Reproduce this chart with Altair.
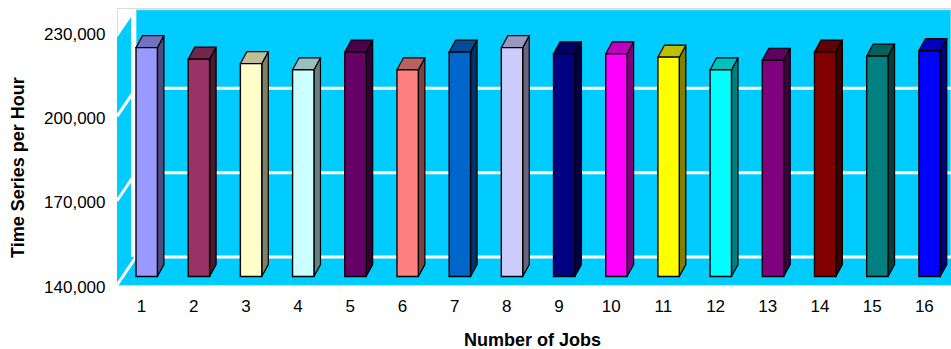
import altair as alt
import pandas as pd

# ---------------- data ----------------
jobs = list(range(1, 17))
throughput = [221500, 217400, 215800, 213600, 219900, 213600, 219900, 221500,
              219300, 219300, 218100, 213600, 217000, 219900, 218500, 220400]
bar_colors = ["#9999FF", "#993366", "#FFFFCC", "#CCFFFF", "#660066", "#FF8080",
              "#0066CC", "#CCCCFF", "#000080", "#FF00FF", "#FFFF00", "#00FFFF",
              "#800080", "#800000", "#008080", "#0000FF"]
y_ticks = [140000, 170000, 200000, 230000]
grid_values = [140000, 170000, 200000]

# ---------------- layout (data units of the two scales) ----------------
X_MIN, X_MAX = 0.54, 16.52
Y_MIN, Y_MAX = 140000, 238600
WALL_TOP = 228000
DX, DY = 0.364, 10000      # depth of the 3-D box
BX, BY = 0.109, 3000       # position of bar front face inside the box
HW = 0.205                 # half width of a bar
TDX, TDY = 0.125, 4270     # depth of a bar
WALL = "#00CCFF"
FONT = "Liberation Sans"


def shade(hex_color, f):
    r, g, b = (int(hex_color[i:i + 2], 16) for i in (1, 3, 5))
    return "#{:02X}{:02X}{:02X}".format(int(r * f), int(g * f), int(b * f))


xs = alt.Scale(domain=[X_MIN, X_MAX], nice=False, zero=False)
ys = alt.Scale(domain=[Y_MIN, Y_MAX], nice=False, zero=False)

X_AXIS = alt.Axis(values=jobs, format="d", title="Number of Jobs", grid=False,
                  domain=False, ticks=False, tickSize=0, labelFontSize=17,
                  labelColor="black", labelPadding=21, labelBaseline="middle",
                  titleFontSize=18, titleFontWeight="bold", titleColor="black",
                  titleX=415, titleY=55, titleBaseline="middle", titleAlign="center")
Y_AXIS = alt.Axis(values=y_ticks, format=",d", title="Time Series per Hour", grid=False,
                  domain=False, ticks=False, tickSize=0, labelFontSize=17,
                  labelColor="black", labelPadding=12, labelOffset=2,
                  titleFontSize=18, titleFontWeight="bold", titleColor="black",
                  titleX=-99, titleY=159, titleAngle=270, titleBaseline="middle",
                  titleAlign="center")


def X(f):
    return alt.X(f, type="quantitative", scale=xs, axis=X_AXIS, stack=None)


def Y(f):
    return alt.Y(f, type="quantitative", scale=ys, axis=Y_AXIS, stack=None)


# ---------------- walls ----------------
back_df = pd.DataFrame({"xa": [X_MIN + DX], "xb": [X_MAX],
                        "ya": [Y_MIN + DY], "yb": [WALL_TOP + DY]})
back = alt.Chart(back_df).mark_rect(color=WALL, stroke="#B0ECFF", strokeWidth=1).encode(
    x=X("xa"), x2="xb", y=Y("ya"), y2="yb")

floor_df = pd.DataFrame({"y": [Y_MIN, Y_MIN + DY], "xa": [X_MIN, X_MIN + DX],
                         "xb": [X_MAX, X_MAX]})
floor = alt.Chart(floor_df).mark_area(color=WALL, orient="horizontal").encode(
    y=Y("y"), x=X("xa"), x2="xb")

side_df = pd.DataFrame({"x": [X_MIN, X_MIN + DX], "ya": [Y_MIN, Y_MIN + DY],
                        "yb": [WALL_TOP, WALL_TOP + DY]})
side = alt.Chart(side_df).mark_area(color=WALL, orient="vertical").encode(
    x=X("x"), y=Y("ya"), y2="yb")

edge_df = pd.DataFrame({"x": [X_MIN + DX], "ya": [Y_MIN + DY], "yb": [WALL_TOP + DY]})
edge = alt.Chart(edge_df).mark_rule(color="white", strokeWidth=5, xOffset=-2.5).encode(
    x=X("x"), y=Y("ya"), y2="yb")

grid_back_df = pd.DataFrame({"y": [v + DY for v in grid_values],
                             "xa": [X_MIN + DX] * len(grid_values),
                             "xb": [X_MAX] * len(grid_values)})
grid_back = alt.Chart(grid_back_df).mark_rule(color="white", strokeWidth=3).encode(
    y=Y("y"), x=X("xa"), x2="xb")

grid_side_df = pd.DataFrame({"xa": [X_MIN] * len(grid_values),
                             "xb": [X_MIN + DX] * len(grid_values),
                             "ya": grid_values,
                             "yb": [v + DY for v in grid_values]})
grid_side = alt.Chart(grid_side_df).mark_rule(color="white", strokeWidth=3).encode(
    x=X("xa"), x2="xb", y=Y("ya"), y2="yb")

# ---------------- bars ----------------
front_rows, top_rows, side_rows = [], [], []
for j, v, c in zip(jobs, throughput, bar_colors):
    L, R = j - HW + BX, j + HW + BX
    front_rows.append({"id": j, "xa": L, "xb": R, "ya": Y_MIN + BY, "yb": v + BY, "fill": c})
    top_rows.append({"id": j, "y": v + BY, "xa": L, "xb": R, "fill": shade(c, 0.75)})
    top_rows.append({"id": j, "y": v + BY + TDY, "xa": L + TDX, "xb": R + TDX,
                     "fill": shade(c, 0.75)})
    side_rows.append({"id": j, "x": R, "ya": Y_MIN + BY, "yb": v + BY, "fill": shade(c, 0.5)})
    side_rows.append({"id": j, "x": R + TDX, "ya": Y_MIN + BY + TDY, "yb": v + BY + TDY,
                      "fill": shade(c, 0.5)})

bar_side = alt.Chart(pd.DataFrame(side_rows)).mark_area(
    orient="vertical", stroke="black", strokeWidth=1.2, strokeJoin="miter").encode(
    x=X("x"), y=Y("ya"), y2="yb", detail="id:N",
    fill=alt.Fill("fill:N", scale=None))

bar_top = alt.Chart(pd.DataFrame(top_rows)).mark_area(
    orient="horizontal", stroke="black", strokeWidth=1.2, strokeJoin="miter").encode(
    y=Y("y"), x=X("xa"), x2="xb", detail="id:N",
    fill=alt.Fill("fill:N", scale=None))

bar_front = alt.Chart(pd.DataFrame(front_rows)).mark_rect(
    stroke="black", strokeWidth=1.4).encode(
    x=X("xa"), x2="xb", y=Y("ya"), y2="yb",
    fill=alt.Fill("fill:N", scale=None))

chart = alt.layer(back, floor, side, grid_back, grid_side, edge,
                  bar_side, bar_top, bar_front).properties(
    width=834, height=277,
    autosize=alt.AutoSizeParams(type="none"),
    padding={"left": 117, "top": 8, "right": 0, "bottom": 64},
    background="white",
).configure_view(strokeWidth=0).configure(font=FONT)

chart.save("out.html", embed_options={"renderer": "svg", "actions": False})
